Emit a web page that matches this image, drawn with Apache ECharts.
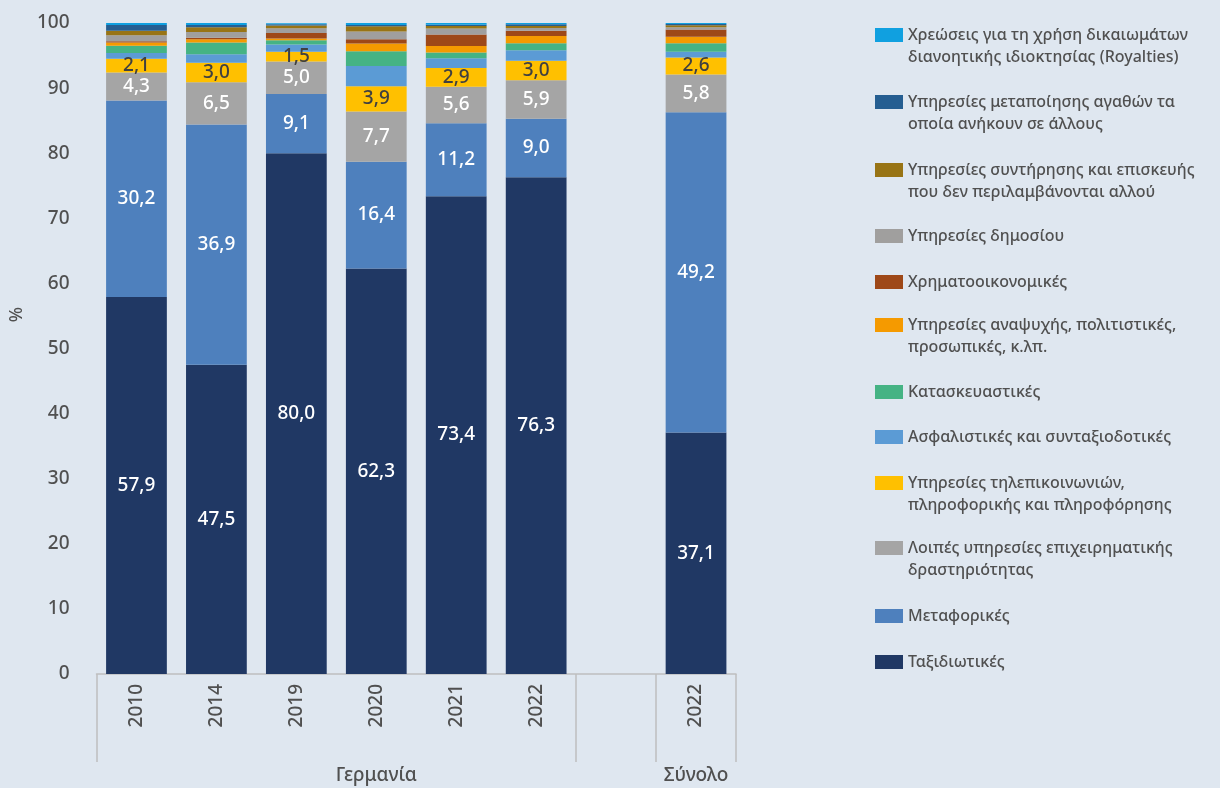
<!DOCTYPE html>
<html>
<head>
<meta charset="utf-8">
<script src="https://cdn.jsdelivr.net/npm/echarts@6/dist/echarts.min.js"></script>
<style>
html, body { margin: 0; padding: 0; background: #dfe7f0; }
#chart { width: 1220px; height: 788px; }
</style>
</head>
<body>
<div id="chart"></div>
<script>
// categories (index 6 is the empty gap between the two groups)
var categories = ['2010', '2014', '2019', '2020', '2021', '2022', '', '2022'];
var groupLabels = ['', '', '', 'Γερμανία', '', '', '', 'Σύνολο'];
var yMin = 0, yMax = 100, yStep = 10;

// shares in %, stacked bottom -> top
var travel        = [57.9, 47.5, 80.0, 62.3, 73.4, 76.3, null, 37.1];
var transport     = [30.2, 36.9,  9.1, 16.4, 11.2,  9.0, null, 49.2];
var otherBusiness = [ 4.3,  6.5,  5.0,  7.7,  5.6,  5.9, null,  5.8];
var telecom       = [ 2.1,  3.0,  1.5,  3.9,  2.9,  3.0, null,  2.6];
var insurance     = [ 0.9,  1.3,  1.1,  3.1,  1.5,  1.6, null,  0.9];
var construction  = [ 1.1,  1.8, 0.65, 2.25, 0.85,  1.1, null,  1.3];
var recreation    = [ 0.5,  0.5, 0.25,  1.2,  1.0,  1.1, null,  1.0];
var financial     = [ 0.2, 0.25, 0.85, 0.65,  1.8,  0.8, null,  1.1];
var publicSvc     = [ 0.9, 0.85, 0.75,  1.2,  0.9, 0.45, null, 0.35];
var maintenance   = [ 0.7, 0.75,  0.4,  0.8,  0.4,  0.3, null,  0.3];
var processing    = [ 0.9, 0.35,  0.2,  0.2,  0.2, 0.25, null,  0.2];
var royalties     = [ 0.3,  0.3, 0.15,  0.3,  0.3,  0.2, null, 0.15];

var names = [
    'Ταξιδιωτικές',
    'Μεταφορικές',
    'Λοιπές υπηρεσίες επιχειρηματικής\nδραστηριότητας',
    'Υπηρεσίες τηλεπικοινωνιών,\nπληροφορικής και πληροφόρησης',
    'Ασφαλιστικές και συνταξιοδοτικές',
    'Κατασκευαστικές',
    'Υπηρεσίες αναψυχής, πολιτιστικές,\nπροσωπικές, κ.λπ.',
    'Χρηματοοικονομικές',
    'Υπηρεσίες δημοσίου',
    'Υπηρεσίες συντήρησης και επισκευής\nπου δεν περιλαμβάνονται αλλού',
    'Υπηρεσίες μεταποίησης αγαθών τα\nοποία ανήκουν σε άλλους',
    'Χρεώσεις για τη χρήση δικαιωμάτων\nδιανοητικής ιδιοκτησίας (Royalties)'
];
var values = [travel, transport, otherBusiness, telecom, insurance, construction,
    recreation, financial, publicSvc, maintenance, processing, royalties];

var colors = ['#203864', '#4e80bd', '#a5a5a5', '#ffc000', '#5b9bd5', '#45b384',
    '#f59a00', '#9e4818', '#a09f9e', '#987415', '#255e91', '#10a0e0'];
var labelColors = ['#fff', '#fff', '#fff', '#404040'];

// first-line centre of each legend entry, top -> bottom
var legendCenters = [35, 102, 170, 236, 282, 325, 392, 437, 483, 548, 616, 662];
var LH = 22.5;
var FONT = 'Noto Sans';

var myChart = echarts.init(document.getElementById('chart'));

var series = [];
for (var i = 0; i < names.length; i++) {
    series.push({
        name: names[i],
        type: 'bar',
        stack: 'total',
        barWidth: '76%',
        data: values[i],
        itemStyle: { color: colors[i] },
        label: {
            show: i < 4,
            position: 'inside',
            color: labelColors[i],
            fontFamily: FONT,
            fontSize: 19,
            fontWeight: 500,
            formatter: function (p) {
                return p.value == null ? '' : p.value.toFixed(1).replace('.', ',');
            }
        }
    });
}

// one legend per entry; two-line entries get a taller icon box whose
// swatch sits in the top part, so it lines up with the first text line
var swatch2 = 'path://M0,0L0.01,0M0,45L0.01,45M0,4.25L28,4.25L28,18.25L0,18.25Z';
var legends = [];
for (var j = 0; j < names.length; j++) {
    var k = names.length - 1 - j;
    var twoLine = names[k].indexOf('\n') >= 0;
    legends.push({
        data: [names[k]],
        left: 875,
        top: legendCenters[j] - LH / 2,
        padding: 0,
        icon: twoLine ? swatch2 : 'rect',
        itemWidth: 28,
        itemHeight: twoLine ? 45 : 14,
        textStyle: {
            color: '#505050',
            fontFamily: FONT,
            fontSize: 16,
            fontWeight: 500,
            lineHeight: LH
        }
    });
}

var tickIdx = [0, 6, 7];

var option = {
    backgroundColor: '#dfe7f0',
    animation: false,
    grid: { left: 96, right: 484, top: 23, bottom: 114 },
    legend: legends,
    xAxis: [
        {
            type: 'category',
            data: categories,
            axisLine: { lineStyle: { color: '#bfbfbf', width: 1.5 } },
            axisTick: {
                show: true,
                length: 88,
                interval: function (idx) { return tickIdx.indexOf(idx) >= 0; },
                lineStyle: { color: '#bfbfbf', width: 1.5 }
            },
            axisLabel: { interval: 0, rotate: 90, color: '#505050', fontFamily: FONT, fontSize: 19, fontWeight: 500, margin: 10 }
        },
        {
            type: 'category',
            data: groupLabels,
            position: 'bottom',
            offset: 92,
            axisLine: { show: false },
            axisTick: { show: false },
            axisLabel: { interval: 0, color: '#505050', fontFamily: FONT, fontSize: 19, fontWeight: 500, margin: 0 }
        }
    ],
    yAxis: {
        type: 'value',
        min: yMin,
        max: yMax,
        interval: yStep,
        name: '%',
        nameLocation: 'middle',
        nameRotate: 90,
        nameGap: 64,
        nameTextStyle: { color: '#505050', fontFamily: FONT, fontSize: 18, fontWeight: 500, padding: [0, 0, 0, 68] },
        axisLine: { show: false },
        axisTick: { show: false },
        splitLine: { show: false },
        axisLabel: { color: '#505050', fontFamily: FONT, fontSize: 19, fontWeight: 500, margin: 27 }
    },
    series: series
};
myChart.setOption(option);
</script>
</body>
</html>
